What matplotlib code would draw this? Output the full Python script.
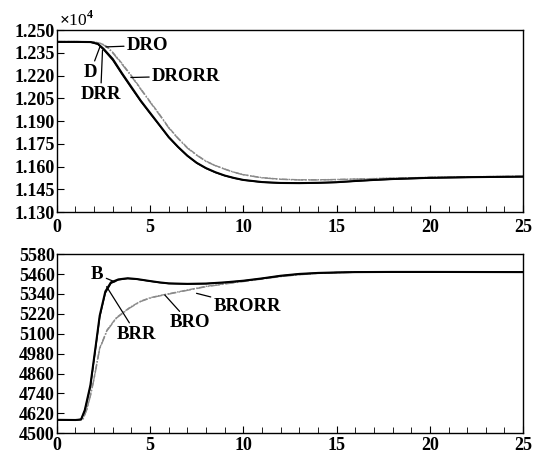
import matplotlib
matplotlib.use("Agg")
import matplotlib.pyplot as plt
from matplotlib.ticker import MultipleLocator, FormatStrFormatter

plt.rcParams['font.family'] = ['Liberation Serif', 'DejaVu Serif']
plt.rcParams['font.weight'] = 'bold'
plt.rcParams['mathtext.fontset'] = 'custom'
plt.rcParams['mathtext.rm'] = 'Liberation Serif'

# top panel (values x 10^4)
t_d = [0, 1, 1.8, 2.2, 2.5, 3, 3.5, 4, 4.5, 5, 5.5, 6, 6.5, 7, 7.5, 8, 8.5, 9,
       9.5, 10, 11, 12, 13, 14, 15, 16, 17, 18, 19, 20, 22, 25]
d_val = [1.2423, 1.2423, 1.2422, 1.2410, 1.2378, 1.2310, 1.2215, 1.2125,
         1.2035, 1.1955, 1.1875, 1.1795, 1.1730, 1.1672, 1.1625, 1.1590,
         1.1563, 1.1541, 1.1525, 1.1512, 1.1498, 1.1492, 1.1491, 1.1493,
         1.1497, 1.1505, 1.1512, 1.1518, 1.1522, 1.1526, 1.1530, 1.1534]
drr_val = [1.2423, 1.2423, 1.2422, 1.2408, 1.2372, 1.2302, 1.2208, 1.2118,
           1.2030, 1.1950, 1.1872, 1.1792, 1.1728, 1.1670, 1.1623, 1.1588,
           1.1561, 1.1540, 1.1524, 1.1511, 1.1497, 1.1491, 1.1490, 1.1492,
           1.1496, 1.1504, 1.1511, 1.1517, 1.1521, 1.1525, 1.1529, 1.1533]

t_dro = [0, 1, 2, 2.4, 2.7, 3, 3.5, 4, 4.5, 5, 5.5, 6, 6.5, 7, 7.5, 8, 8.5, 9,
         9.5, 10, 11, 12, 13, 14, 15, 16, 18, 20, 22, 25]
dro_val = [1.2425, 1.2425, 1.2423, 1.2410, 1.2388, 1.2350, 1.2275, 1.2195,
           1.2110, 1.2025, 1.1942, 1.1855, 1.1785, 1.1722, 1.1675, 1.1634,
           1.1606, 1.1583, 1.1562, 1.1546, 1.1526, 1.1516, 1.1512, 1.1512,
           1.1514, 1.1517, 1.1523, 1.1528, 1.1532, 1.1536]
drorr_val = [1.2425, 1.2425, 1.2423, 1.2412, 1.2391, 1.2354, 1.2280, 1.2200,
             1.2114, 1.2029, 1.1946, 1.1858, 1.1788, 1.1725, 1.1677, 1.1636,
             1.1607, 1.1584, 1.1563, 1.1547, 1.1527, 1.1517, 1.1513, 1.1513,
             1.1515, 1.1518, 1.1524, 1.1529, 1.1533, 1.1536]

# bottom panel
t_b = [0, 1, 1.3, 1.5, 1.8, 2.1, 2.3, 2.6, 2.9, 3.3, 3.8, 4.3, 5, 5.5, 6, 7,
       8, 9, 10, 11, 12, 13, 14, 15, 16, 18, 20, 25]
b_val = [4581, 4580, 4583, 4640, 4790, 5040, 5210, 5355, 5410, 5428, 5435,
         5430, 5418, 5410, 5404, 5401, 5403, 5410, 5420, 5434, 5450, 5461,
         5467, 5470, 5472, 5473, 5473, 5472]
brr_val = [4581, 4580, 4583, 4635, 4780, 5030, 5200, 5345, 5404, 5425, 5433,
           5429, 5417, 5409, 5403, 5400, 5402, 5409, 5419, 5433, 5449, 5460,
           5466, 5469, 5471, 5472, 5472, 5472]

t_bro = [0, 1, 1.4, 1.6, 1.8, 2.0, 2.3, 2.7, 3.2, 3.9, 4.5, 5, 5.4, 6.2, 7,
         8, 9, 10, 11, 12, 13, 14, 15, 16, 18, 25]
bro_val = [4581, 4580, 4585, 4640, 4725, 4830, 5010, 5120, 5195, 5255, 5295,
           5315, 5326, 5344, 5362, 5384, 5400, 5415, 5430, 5445, 5456, 5464,
           5469, 5471, 5472, 5472]
brorr_val = [4581, 4580, 4585, 4642, 4728, 4834, 5014, 5124, 5198, 5258,
             5297, 5317, 5328, 5346, 5364, 5386, 5402, 5417, 5432, 5446, 5457,
             5465, 5470, 5472, 5473, 5473]

top_ticks = [1.130, 1.145, 1.160, 1.175, 1.190, 1.205, 1.220, 1.235, 1.250]
bot_ticks = [4500, 4620, 4740, 4860, 4980, 5100, 5220, 5340, 5460, 5580]

fig = plt.figure(figsize=(5.36, 4.58), dpi=100)
ax1 = fig.add_axes([0.106, 0.537, 0.870, 0.397])
ax2 = fig.add_axes([0.106, 0.054, 0.870, 0.391])

gray = '#8a8a8a'
ax1.plot(t_dro, dro_val, color=gray, lw=1.0, ls='-.')
ax1.plot(t_dro, drorr_val, color=gray, lw=1.0, ls=(0, (4, 1, 1, 1)))
ax1.plot(t_d, d_val, color='black', lw=1.5)
ax1.plot(t_d, drr_val, color='black', lw=1.0)

ax2.plot(t_bro, bro_val, color=gray, lw=1.0, ls='-.')
ax2.plot(t_bro, brorr_val, color=gray, lw=1.0, ls=(0, (4, 1, 1, 1)))
ax2.plot(t_b, b_val, color='black', lw=1.5)
ax2.plot(t_b, brr_val, color='black', lw=1.0)

ax1.set_ylim(1.130, 1.250)
ax1.set_yticks(top_ticks)
ax1.yaxis.set_major_formatter(FormatStrFormatter('%.3f'))
ax2.set_ylim(4500, 5580)
ax2.set_yticks(bot_ticks)

for ax in (ax1, ax2):
    ax.set_xlim(0, 25)
    ax.xaxis.set_major_locator(MultipleLocator(5))
    ax.xaxis.set_minor_locator(MultipleLocator(1))
    ax.tick_params(which='both', direction='in', labelsize=13,
                   top=False, right=False)
    ax.tick_params(axis='y', pad=1.5)
    ax.tick_params(which='major', length=5)
    ax.tick_params(which='minor', length=4)
    for s in ax.spines.values():
        s.set_linewidth(1.0)
ax1.tick_params(axis='x', pad=5)
ax2.tick_params(axis='x', pad=3)

ax1.text(0.005, 1.005, r'$\times$10$^4$', transform=ax1.transAxes,
         fontsize=12.5, fontweight='normal', ha='left', va='bottom')

lp = dict(arrowstyle='-', lw=0.9, color='black', shrinkA=0, shrinkB=0)
fs = 13.5
ax1.annotate('DRO', xy=(2.63, 1.2390), xytext=(3.75, 1.2400),
             fontsize=fs, ha='left', va='center', arrowprops=lp)
ax1.annotate('D', xy=(2.31, 1.2390), xytext=(1.8, 1.2223),
             fontsize=fs, ha='center', va='center', arrowprops=lp)
ax1.annotate('DRR', xy=(2.45, 1.2368), xytext=(2.35, 1.2078),
             fontsize=fs, ha='center', va='center', arrowprops=lp)
ax1.annotate('DRORR', xy=(3.97, 1.2188), xytext=(5.1, 1.2197),
             fontsize=fs, ha='left', va='center', arrowprops=lp)

ax2.annotate('B', xy=(3.11, 5413), xytext=(2.17, 5457),
             fontsize=fs, ha='center', va='center', arrowprops=lp)
ax2.annotate('BRR', xy=(2.67, 5384), xytext=(4.27, 5098),
             fontsize=fs, ha='center', va='center', arrowprops=lp)
ax2.annotate('BRO', xy=(5.79, 5334), xytext=(7.13, 5167),
             fontsize=fs, ha='center', va='center', arrowprops=lp)
ax2.annotate('BRORR', xy=(7.49, 5344), xytext=(8.4, 5266),
             fontsize=fs, ha='left', va='center', arrowprops=lp)

fig.savefig('out.png', dpi=100)
